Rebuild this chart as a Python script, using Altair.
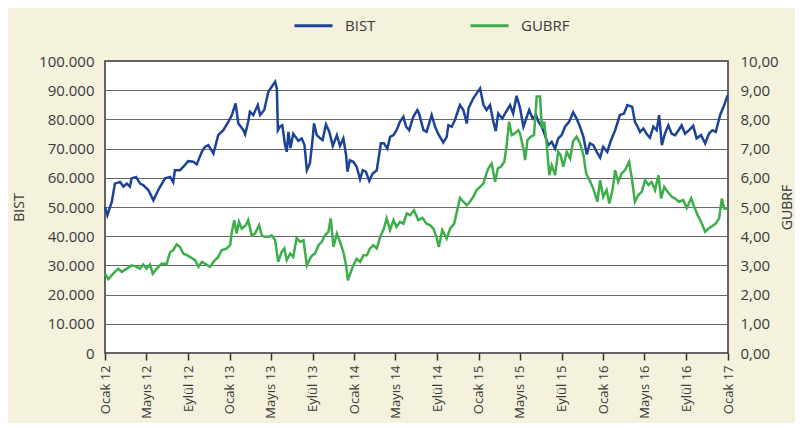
import altair as alt
import pandas as pd

# day offsets from 1 Jan 2012 and values
bist_days = [0, 7, 20, 29, 44, 54, 64, 73, 78, 91, 103, 112, 127, 142, 156, 176, 191, 200, 205, 220,
             230, 244, 259, 269, 284, 293, 303, 318, 332, 347, 362, 372, 383, 391, 406, 411, 420, 425, 435, 448,
             455, 467, 479, 489, 499, 504, 507, 513, 520, 528, 533, 538, 544, 552, 559, 567, 577, 585, 592, 601,
             608, 613, 621, 631, 638, 648, 658, 668, 680, 689, 699, 707, 711, 718, 728, 738, 748, 756, 765, 775,
             785, 797, 809, 818, 828, 836, 846, 855, 865, 875, 883, 892, 904, 916, 921, 934, 943, 958, 968, 977,
             992, 1002, 1007, 1017, 1026, 1041, 1051, 1061, 1066, 1080, 1090, 1100, 1110, 1119, 1129, 1139, 1146, 1153, 1165, 1173,
             1188, 1197, 1207, 1217, 1227, 1237, 1244, 1254, 1264, 1271, 1281, 1290, 1300, 1310, 1320, 1329, 1339, 1349, 1361, 1373,
             1383, 1393, 1403, 1413, 1422, 1432, 1442, 1452, 1461, 1473, 1483, 1496, 1510, 1522, 1532, 1546, 1554, 1562, 1569, 1579,
             1588, 1598, 1608, 1618, 1625, 1633, 1642, 1652, 1662, 1672, 1682, 1691, 1701, 1713, 1725, 1735, 1748, 1760, 1771, 1781,
             1791, 1804, 1816, 1826]
bist_vals = [50000, 47200, 51800, 58000, 58600, 57000, 58000, 57000, 59800, 60300, 58000, 57500, 55800, 52300, 55800, 59800, 60300, 58500, 62600, 62600,
             63800, 65700, 65500, 64600, 68900, 70600, 71200, 68300, 74600, 76300, 79200, 81500, 85500, 78600, 76300, 74900, 79200, 82600, 81500, 84900,
             81500, 83200, 89500, 91200, 92900, 90600, 76300, 77500, 78000, 71200, 68900, 75700, 70200, 75100, 74000, 72600, 73500, 71200, 62600, 65000,
             72300, 78600, 74600, 73500, 72900, 78300, 75700, 70900, 74600, 70900, 73500, 67800, 62100, 66000, 65500, 63800, 59500, 62600, 62100, 58900,
             61500, 62600, 71800, 71800, 70000, 74000, 74600, 76300, 79200, 80900, 77500, 76300, 80900, 83200, 82000, 76300, 75700, 81500, 77500, 75100,
             72100, 74000, 78000, 77500, 79800, 84900, 83200, 78600, 83800, 87200, 88900, 90600, 84900, 83200, 84900, 79200, 76000, 82000, 80300, 82000,
             84900, 82000, 88100, 84000, 77500, 80900, 83200, 80300, 81500, 79200, 77500, 74600, 71200, 72300, 70000, 73500, 74600, 77500, 79200, 82400,
             80300, 77500, 74000, 68000, 71800, 71200, 68900, 66900, 70600, 68900, 72600, 76300, 81500, 82000, 84900, 84300, 79200, 77500, 75700, 76900,
             75100, 73700, 77500, 76300, 81500, 71200, 75100, 78000, 75100, 74600, 76300, 78000, 75100, 76300, 77800, 73500, 74600, 71800, 75100, 76300,
             75700, 81500, 84900, 88300]

gubrf_days = [0, 10, 24, 39, 49, 64, 78, 93, 103, 112, 122, 132, 140, 152, 166, 181, 191, 200, 210, 220,
              230, 240, 249, 264, 274, 284, 293, 308, 318, 332, 342, 357, 367, 372, 379, 386, 393, 401, 413, 420,
              430, 440, 452, 460, 469, 481, 489, 499, 508, 518, 526, 533, 543, 552, 562, 572, 582, 592, 601, 608,
              616, 626, 636, 645, 655, 662, 670, 680, 689, 699, 707, 712, 721, 728, 738, 748, 758, 768, 777, 787,
              797, 807, 818, 826, 836, 846, 855, 865, 875, 885, 895, 906, 919, 931, 943, 953, 963, 972, 979, 989,
              1002, 1012, 1024, 1034, 1041, 1051, 1061, 1070, 1080, 1090, 1100, 1110, 1117, 1124, 1134, 1144, 1152, 1161, 1171, 1178,
              1185, 1193, 1202, 1212, 1217, 1227, 1232, 1239, 1249, 1258, 1266, 1276, 1281, 1288, 1296, 1303, 1310, 1320, 1329, 1336,
              1344, 1354, 1364, 1373, 1383, 1393, 1403, 1411, 1422, 1432, 1444, 1452, 1461, 1471, 1479, 1489, 1496, 1505, 1515, 1525,
              1537, 1545, 1554, 1564, 1574, 1584, 1594, 1603, 1613, 1623, 1631, 1640, 1650, 1662, 1672, 1683, 1696, 1706, 1719, 1728,
              1738, 1748, 1760, 1769, 1781, 1791, 1801, 1809, 1816, 1826]
gubrf_vals = [2.72, 2.53, 2.72, 2.89, 2.78, 2.89, 3.00, 2.95, 2.89, 3.03, 2.89, 3.03, 2.72, 2.89, 3.06, 3.06, 3.46, 3.52, 3.72, 3.63,
              3.40, 3.35, 3.29, 3.18, 2.95, 3.12, 3.06, 2.95, 3.12, 3.29, 3.52, 3.58, 3.69, 4.15, 4.55, 4.09, 4.49, 4.26, 4.38, 4.55,
              4.03, 4.09, 4.38, 4.03, 3.98, 3.98, 4.03, 3.86, 3.12, 3.46, 3.58, 3.18, 3.40, 3.29, 3.94, 3.81, 3.86, 3.00, 3.23, 3.35,
              3.40, 3.69, 3.81, 4.03, 4.15, 4.61, 3.63, 4.09, 3.81, 3.46, 3.00, 2.49, 2.78, 3.00, 3.23, 3.12, 3.35, 3.35, 3.58, 3.69,
              3.58, 3.98, 4.26, 4.61, 4.21, 4.55, 4.32, 4.49, 4.43, 4.78, 4.72, 4.89, 4.55, 4.63, 4.43, 4.38, 4.26, 3.98, 3.63, 4.21,
              3.92, 4.26, 4.43, 4.95, 5.31, 5.18, 5.06, 5.18, 5.35, 5.58, 5.69, 5.81, 6.09, 6.32, 6.49, 5.86, 6.32, 6.38, 6.55, 7.12,
              7.92, 7.46, 7.52, 7.63, 7.52, 7.00, 6.61, 7.29, 7.41, 7.46, 8.78, 8.78, 7.69, 7.92, 7.06, 6.09, 6.43, 6.09, 6.89, 6.78,
              6.38, 6.89, 6.66, 7.26, 7.41, 7.18, 6.78, 6.15, 5.89, 5.63, 5.18, 5.92, 5.35, 5.58, 5.12, 5.63, 6.26, 5.86, 6.15, 6.26,
              6.55, 5.98, 5.18, 5.41, 5.52, 5.92, 5.75, 5.86, 5.58, 6.09, 5.29, 5.69, 5.52, 5.35, 5.29, 5.18, 5.24, 4.97, 5.29, 5.01,
              4.72, 4.49, 4.15, 4.26, 4.35, 4.43, 4.61, 5.29, 4.95, 4.93]

series_names = ["BIST", "GUBRF"]
series_colors = ["#1d4399", "#3dae4a"]
tick_dates = [(2012, 1), (2012, 5), (2012, 9), (2013, 1), (2013, 5), (2013, 9), (2014, 1), (2014, 5),
              (2014, 9), (2015, 1), (2015, 5), (2015, 9), (2016, 1), (2016, 5), (2016, 9), (2017, 1)]

start = pd.Timestamp("2012-01-01")
bist_df = pd.DataFrame({
    "date": (start + pd.to_timedelta(bist_days, unit="D")).strftime("%Y-%m-%d"),
    "value": bist_vals, "series": "BIST"})
gubrf_df = pd.DataFrame({
    "date": (start + pd.to_timedelta(gubrf_days, unit="D")).strftime("%Y-%m-%d"),
    "value": gubrf_vals, "series": "GUBRF"})

FONT = "Open Sans"
TXT = "#3a3a3a"

month_expr = ("['Ocak','Şubat','Mart','Nisan','Mayıs','Haziran','Temmuz','Ağustos','Eylül','Ekim','Kasım','Aralık']"
              "[utcmonth(datum.value)] + ' ' + utcFormat(datum.value, '%y')")

x_enc = alt.X(
    "date:T",
    scale=alt.Scale(type="utc", domain=[alt.DateTime(year=2012, month=1, date=1, utc=True),
                                         alt.DateTime(year=2017, month=1, date=1, utc=True)]),
    axis=alt.Axis(
        title=None,
        values=[alt.DateTime(year=y, month=m, date=1, utc=True) for y, m in tick_dates],
        labelExpr=month_expr, labelAngle=270, labelAlign="right", labelBaseline="middle",
        labelFont=FONT, labelFontSize=13, labelColor=TXT, labelPadding=5,
        tickSize=7, tickColor="#333", tickWidth=1.5, domain=False, grid=False,
        labelOverlap=False, labelFlush=False, labelBound=False,
    ),
)

color_enc = alt.Color(
    "series:N",
    scale=alt.Scale(domain=series_names, range=series_colors),
    legend=alt.Legend(
        orient="none", legendX=188, legendY=-56, direction="horizontal", title=None,
        symbolType="stroke", symbolStrokeWidth=3, symbolSize=1444,
        labelFont=FONT, labelFontSize=15, labelColor=TXT, columnPadding=88, labelOffset=11,
    ),
)

bist = alt.Chart(bist_df).mark_line(strokeWidth=2.5).encode(
    x=x_enc,
    y=alt.Y("value:Q", scale=alt.Scale(domain=[0, 100000], nice=False),
            axis=alt.Axis(orient="left", title="BIST", values=list(range(0, 100001, 10000)),
                          labelExpr="replace(format(datum.value, ','), ',', '.')",
                          labelFont=FONT, labelFontSize=15, labelColor=TXT, labelPadding=11,
                          ticks=False, domain=False, grid=True, gridColor="#666", gridWidth=1,
                          titleFont=FONT, titleFontSize=14, titleFontWeight="normal", titleColor=TXT,
                          titlePadding=12)),
    color=color_enc,
)

gubrf = alt.Chart(gubrf_df).mark_line(strokeWidth=2.5).encode(
    x=x_enc,
    y=alt.Y("value:Q", scale=alt.Scale(domain=[0, 10], nice=False),
            axis=alt.Axis(orient="right", title="GUBRF", values=list(range(0, 11)),
                          labelExpr="replace(format(datum.value, '.2f'), '.', ',')",
                          labelFont=FONT, labelFontSize=15, labelColor=TXT, labelPadding=12,
                          ticks=False, domain=False, grid=False,
                          titleFont=FONT, titleFontSize=14, titleFontWeight="normal", titleColor=TXT,
                          titleAngle=270, titlePadding=16)),
    color=color_enc,
)

chart = alt.layer(bist, gubrf).resolve_scale(y="independent").properties(
    width=623, height=292,
    autosize=alt.AutoSizeParams(type="none"),
    padding={"left": 97, "top": 53, "right": 67, "bottom": 70},
    background="#f4f1dc",
).configure_view(stroke="#333", strokeWidth=1.5, fill="white")

chart.save("out.html", embed_options={"renderer": "svg", "actions": False})
